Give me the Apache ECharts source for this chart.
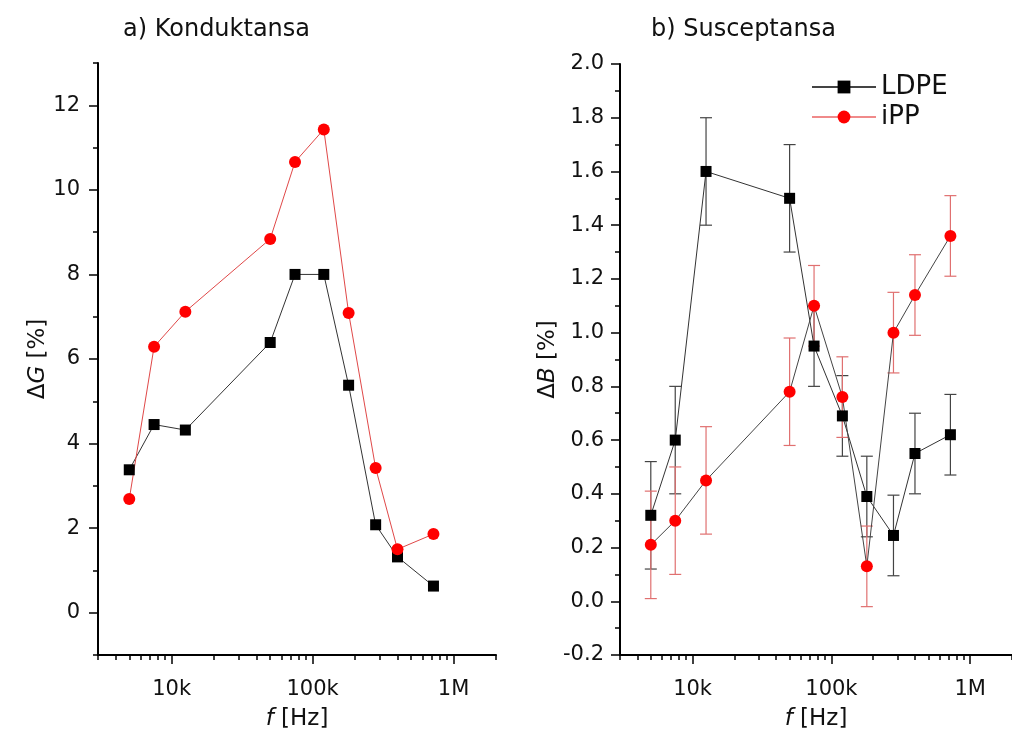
<!DOCTYPE html>
<html>
<head>
<meta charset="utf-8">
<script src="https://cdn.jsdelivr.net/npm/echarts@6/dist/echarts.min.js"></script>
<style>
  html, body { margin: 0; padding: 0; background: #fff; }
  #main { width: 1012px; height: 742px; }
</style>
</head>
<body>
<div id="main"></div>
<script>
// frequencies in Hz (same for both panels)
var freqHz = [5000, 7500, 12500, 50000, 75000, 120000, 180000, 280000, 400000, 720000];

// a) conductance change [%]
var gLDPE = [3.38, 4.45, 4.32, 6.39, 8.0, 8.0, 5.38, 2.08, 1.32, 0.63];
var gIPP = [2.69, 6.29, 7.12, 8.84, 10.66, 11.43, 7.09, 3.42, 1.5, 1.86];

// b) susceptance change [%] with error half-widths
var bLDPE = [0.32, 0.60, 1.60, 1.50, 0.95, 0.69, 0.39, 0.245, 0.55, 0.62];
var bLDPEerr = [0.2, 0.2, 0.2, 0.2, 0.15, 0.15, 0.15, 0.15, 0.15, 0.15];
var bIPP = [0.21, 0.30, 0.45, 0.78, 1.10, 0.76, 0.13, 1.00, 1.14, 1.36];
var bIPPerr = [0.2, 0.2, 0.2, 0.2, 0.15, 0.15, 0.15, 0.15, 0.15, 0.15];

// log axis ticks
var xMajorHz = [10000, 100000, 1000000];
var xMajorLabels = ["10k", "100k", "1M"];
var xMinorHz = [3000, 4000, 5000, 6000, 7000, 8000, 9000,
    20000, 30000, 40000, 50000, 60000, 70000, 80000, 90000,
    200000, 300000, 400000, 500000, 600000, 700000, 800000, 900000, 2000000];
var xRangeHz = [3000, 2000000];

var gMajor = [0, 2, 4, 6, 8, 10, 12];
var gMinor = [-1, 1, 3, 5, 7, 9, 11, 13];

var FONT = "DejaVu Sans";
var lg = Math.log10;

function pts(ys) {
    return freqHz.map(function (f, i) { return [lg(f), ys[i]]; });
}
function errPts(ys, es) {
    return freqHz.map(function (f, i) { return [lg(f), ys[i] - es[i], ys[i] + es[i]]; });
}

function errorBars(color) {
    return function (params, api) {
        var x = api.value(0);
        var lo = api.coord([x, api.value(1)]);
        var hi = api.coord([x, api.value(2)]);
        var w = 6;
        var style = { stroke: color, lineWidth: 1.2 };
        return {
            type: "group",
            children: [
                { type: "line", shape: { x1: lo[0], y1: lo[1], x2: hi[0], y2: hi[1] }, style: style },
                { type: "line", shape: { x1: lo[0] - w, y1: lo[1], x2: lo[0] + w, y2: lo[1] }, style: style },
                { type: "line", shape: { x1: hi[0] - w, y1: hi[1], x2: hi[0] + w, y2: hi[1] }, style: style }
            ]
        };
    };
}

var axisLine = { onZero: false, lineStyle: { color: "#000", width: 2 } };
var tickStyle = { color: "#000", width: 1.5 };
var labelStyle = { fontFamily: FONT, fontSize: 21, color: "#111" };
var nameStyle = {
    fontFamily: FONT, fontSize: 23, color: "#111",
    rich: { it: { fontFamily: FONT, fontSize: 23, fontStyle: "italic", color: "#111" } }
};

function xMain(grid) {
    return {
        type: "value", gridIndex: grid, position: "bottom",
        min: lg(xRangeHz[0]), max: lg(xRangeHz[1]),
        axisLine: axisLine,
        splitLine: { show: false },
        axisTick: { customValues: xMajorHz.map(lg), length: 9, lineStyle: tickStyle },
        axisLabel: Object.assign({
            customValues: xMajorHz.map(lg), margin: 24,
            formatter: function (v) {
                var i = xMajorHz.findIndex(function (h) { return Math.abs(lg(h) - v) < 1e-6; });
                return i >= 0 ? xMajorLabels[i] : "";
            }
        }, labelStyle),
        name: "{it|f} [Hz]", nameLocation: "middle", nameGap: 53, nameTextStyle: nameStyle
    };
}
function xMinor(grid) {
    return {
        type: "value", gridIndex: grid, position: "bottom",
        min: lg(xRangeHz[0]), max: lg(xRangeHz[1]),
        axisLine: { show: false, onZero: false },
        splitLine: { show: false },
        axisTick: { customValues: xMinorHz.map(lg), length: 5, lineStyle: tickStyle },
        axisLabel: { show: false }
    };
}

var option = {
    backgroundColor: "#fff",
    animation: false,
    title: [
        { text: "a) Konduktansa", left: 118, top: 13,
          textStyle: { fontFamily: FONT, fontSize: 24, fontWeight: "normal", color: "#111" } },
        { text: "b) Susceptansa", left: 646, top: 13,
          textStyle: { fontFamily: FONT, fontSize: 24, fontWeight: "normal", color: "#111" } }
    ],
    legend: {
        orient: "vertical", left: 806, top: 69,
        itemWidth: 64, itemHeight: 16, itemGap: 4,
        textStyle: { fontFamily: FONT, fontSize: 26, color: "#111" },
        data: [
            { name: "LDPE", lineStyle: { color: "#444" } },
            { name: "iPP", lineStyle: { color: "#f08a8a" } }
        ]
    },
    grid: [
        { left: 98, top: 63, width: 398, height: 592 },
        { left: 620, top: 64, width: 398, height: 591 }
    ],
    xAxis: [xMain(0), xMinor(0), xMain(1), xMinor(1)],
    yAxis: [
        {
            type: "value", gridIndex: 0, position: "left", min: -1, max: 13,
            axisLine: axisLine, splitLine: { show: false },
            axisTick: { customValues: gMajor, length: 9, lineStyle: tickStyle },
            axisLabel: Object.assign({ customValues: gMajor, margin: 18 }, labelStyle),
            name: "\u0394{it|G} [%]", nameLocation: "middle", nameGap: 48, nameTextStyle: nameStyle
        },
        {
            type: "value", gridIndex: 0, position: "left", min: -1, max: 13,
            axisLine: { show: false, onZero: false }, splitLine: { show: false },
            axisTick: { customValues: gMinor, length: 5, lineStyle: tickStyle },
            axisLabel: { show: false }
        },
        {
            type: "value", gridIndex: 1, position: "left", min: -0.2, max: 2.0, interval: 0.2,
            axisLine: axisLine, splitLine: { show: false },
            axisTick: { length: 9, lineStyle: tickStyle },
            minorTick: { show: true, splitNumber: 2, length: 5, lineStyle: tickStyle },
            axisLabel: Object.assign({
                margin: 16,
                formatter: function (v) { return (Math.round(v * 10) / 10).toFixed(1); }
            }, labelStyle),
            name: "\u0394{it|B} [%]", nameLocation: "middle", nameGap: 58, nameTextStyle: nameStyle
        }
    ],
    series: [
        // a) Konduktansa
        {
            name: "LDPE", type: "line", xAxisIndex: 0, yAxisIndex: 0,
            data: pts(gLDPE), symbol: "rect", symbolSize: 11,
            itemStyle: { color: "#000" }, lineStyle: { color: "#333", width: 1 }
        },
        {
            name: "iPP", type: "line", xAxisIndex: 0, yAxisIndex: 0,
            data: pts(gIPP), symbol: "circle", symbolSize: 12,
            itemStyle: { color: "#ff0000" }, lineStyle: { color: "#e04848", width: 1 }
        },
        // b) Susceptansa
        {
            name: "LDPE err", type: "custom", xAxisIndex: 2, yAxisIndex: 2,
            data: errPts(bLDPE, bLDPEerr), renderItem: errorBars("#444")
        },
        {
            name: "LDPE", type: "line", xAxisIndex: 2, yAxisIndex: 2,
            data: pts(bLDPE), symbol: "rect", symbolSize: 11,
            itemStyle: { color: "#000" }, lineStyle: { color: "#333", width: 1 }
        },
        {
            name: "iPP err", type: "custom", xAxisIndex: 2, yAxisIndex: 2,
            data: errPts(bIPP, bIPPerr), renderItem: errorBars("#e07070")
        },
        {
            name: "iPP", type: "line", xAxisIndex: 2, yAxisIndex: 2,
            data: pts(bIPP), symbol: "circle", symbolSize: 12,
            itemStyle: { color: "#ff0000" }, lineStyle: { color: "#444", width: 1 }
        }
    ]
};

var chart = echarts.init(document.getElementById("main"));
chart.setOption(option);
</script>
</body>
</html>
